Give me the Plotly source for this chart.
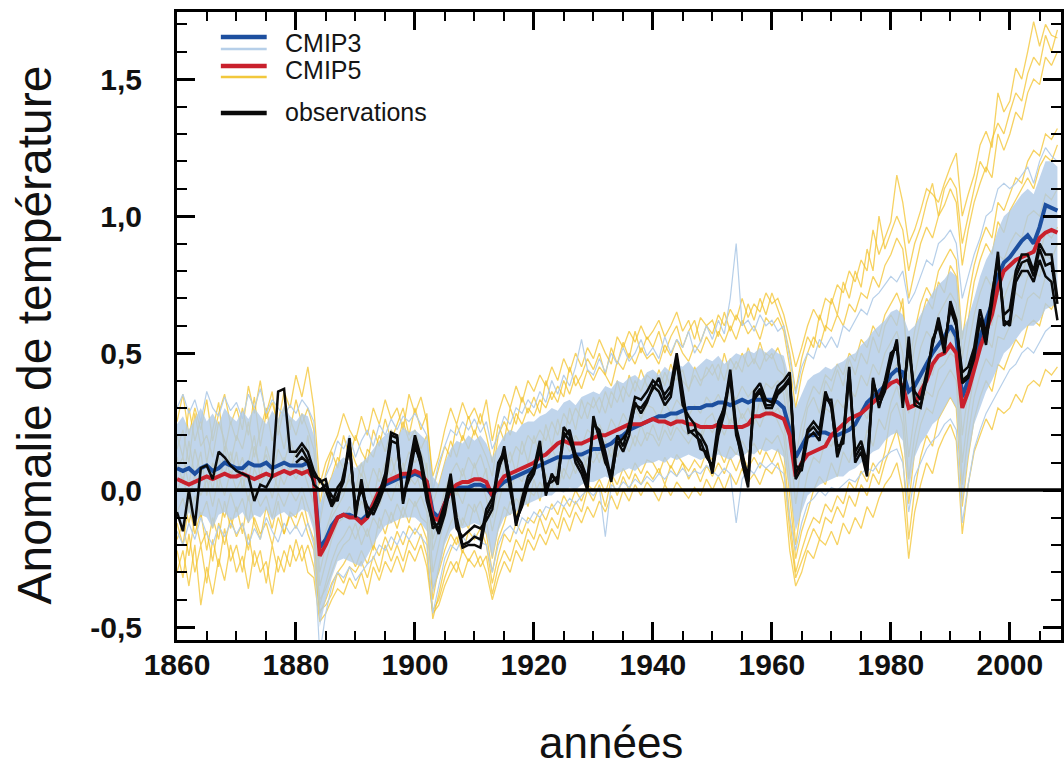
import plotly.graph_objects as go

# ---------------- data ----------------
years = list(range(1860, 2009))          # 149 years
obs_years = list(range(1880, 2009))      # 129 years

cmip5_mean = [
    0.04,0.03,0.02,0.03,0.04,0.05,0.04,0.05,0.06,0.05,
    0.05,0.06,0.05,0.04,0.05,0.06,0.05,0.06,0.07,0.06,
    0.07,0.06,0.07,0.04,-0.24,-0.2,-0.15,-0.1,-0.09,-0.1,
    -0.1,-0.12,-0.1,-0.05,0.0,0.03,0.04,0.05,0.06,0.06,
    0.07,0.06,0.03,-0.1,-0.11,-0.05,0.0,0.02,0.03,0.03,
    0.04,0.04,0.03,-0.02,0.02,0.05,0.06,0.07,0.08,0.09,
    0.1,0.12,0.13,0.15,0.17,0.18,0.17,0.17,0.17,0.18,
    0.19,0.2,0.2,0.21,0.22,0.23,0.24,0.24,0.24,0.25,
    0.26,0.25,0.25,0.24,0.25,0.25,0.24,0.24,0.23,0.23,
    0.23,0.24,0.23,0.23,0.23,0.23,0.24,0.27,0.27,0.28,
    0.28,0.27,0.26,0.2,0.05,0.1,0.13,0.14,0.15,0.16,
    0.2,0.22,0.24,0.26,0.27,0.28,0.3,0.32,0.34,0.37,
    0.39,0.4,0.38,0.3,0.31,0.36,0.4,0.46,0.49,0.5,
    0.53,0.5,0.3,0.36,0.44,0.52,0.58,0.64,0.74,0.8,
    0.82,0.84,0.85,0.86,0.87,0.92,0.94,0.95,0.94]

cmip3_mean = [
    0.08,0.07,0.08,0.06,0.08,0.09,0.07,0.08,0.1,0.09,
    0.08,0.08,0.1,0.09,0.09,0.1,0.08,0.09,0.1,0.09,
    0.09,0.09,0.1,0.05,-0.21,-0.18,-0.13,-0.1,-0.09,-0.09,
    -0.1,-0.11,-0.09,-0.05,-0.01,0.02,0.03,0.04,0.05,0.05,
    0.06,0.05,0.03,-0.08,-0.1,-0.05,0.0,0.01,0.01,0.01,
    0.02,0.02,0.01,-0.02,0.01,0.03,0.04,0.05,0.06,0.07,
    0.08,0.09,0.1,0.11,0.12,0.12,0.12,0.13,0.13,0.14,
    0.15,0.15,0.16,0.17,0.19,0.2,0.22,0.23,0.24,0.25,
    0.26,0.27,0.27,0.28,0.28,0.29,0.3,0.3,0.3,0.31,
    0.31,0.32,0.32,0.31,0.32,0.33,0.32,0.33,0.33,0.33,
    0.33,0.32,0.3,0.22,0.12,0.16,0.2,0.2,0.21,0.21,
    0.2,0.2,0.21,0.22,0.24,0.28,0.32,0.34,0.36,0.38,
    0.42,0.44,0.43,0.36,0.38,0.42,0.46,0.5,0.53,0.56,
    0.6,0.56,0.34,0.4,0.48,0.56,0.62,0.68,0.78,0.83,
    0.85,0.88,0.91,0.93,0.9,0.96,1.04,1.03,1.02]

obs_a = [
    -0.08,-0.15,0.0,-0.13,0.08,0.09,0.04,0.14,0.12,0.09,
    0.07,0.06,0.05,-0.04,0.02,0.01,0.05,0.36,0.37,0.14,
    0.14,0.17,0.14,0.07,0.03,0.04,-0.05,0.01,0.04,0.19,
    -0.1,0.04,-0.09,-0.06,-0.01,0.06,0.21,0.2,-0.04,0.08,
    0.2,0.12,0.0,-0.14,-0.12,-0.05,0.06,-0.1,-0.2,-0.19,
    -0.17,-0.18,-0.07,-0.03,0.06,0.16,0.02,-0.13,-0.03,0.05,
    0.08,0.18,-0.02,0.06,0.02,0.23,0.2,0.1,0.06,0.0,
    0.27,0.18,0.1,0.06,0.2,0.16,0.24,0.34,0.33,0.36,
    0.4,0.38,0.35,0.38,0.5,0.36,0.22,0.2,0.18,0.12,
    0.09,0.25,0.3,0.44,0.23,0.14,0.03,0.36,0.39,0.33,
    0.32,0.38,0.4,0.43,0.06,0.1,0.22,0.25,0.22,0.36,
    0.3,0.13,0.2,0.45,0.12,0.16,0.07,0.41,0.3,0.38,
    0.47,0.55,0.3,0.56,0.33,0.31,0.4,0.55,0.6,0.5,
    0.69,0.62,0.4,0.42,0.5,0.62,0.53,0.7,0.87,0.6,
    0.62,0.78,0.83,0.84,0.78,0.88,0.82,0.83,0.68]

obs_b = [
    0.1,0.12,0.1,0.02,0.0,0.02,-0.02,-0.04,0.06,0.15,
    -0.06,0.0,-0.06,-0.09,-0.04,0.02,0.18,0.17,-0.02,0.04,
    0.16,0.1,-0.02,-0.1,-0.16,-0.09,0.02,-0.14,-0.17,-0.15,
    -0.13,-0.14,-0.11,-0.07,0.08,0.13,0.0,-0.11,-0.06,0.02,
    0.06,0.15,0.0,0.05,0.04,0.19,0.22,0.13,0.1,0.04,
    0.24,0.22,0.14,0.04,0.17,0.19,0.22,0.31,0.3,0.33,
    0.37,0.41,0.33,0.36,0.47,0.31,0.27,0.24,0.15,0.14,
    0.07,0.22,0.31,0.41,0.2,0.12,0.05,0.33,0.36,0.3,
    0.3,0.35,0.37,0.4,0.09,0.07,0.19,0.21,0.18,0.33,
    0.33,0.16,0.17,0.42,0.14,0.18,0.1,0.39,0.33,0.4,
    0.5,0.52,0.34,0.52,0.36,0.33,0.43,0.52,0.63,0.53,
    0.66,0.6,0.43,0.45,0.52,0.66,0.57,0.72,0.84,0.64,
    0.66,0.8,0.86,0.86,0.8,0.9,0.86,0.86,0.7]

obs_c = [
    0.12,0.15,0.11,0.05,0.04,0.0,-0.06,-0.02,0.03,0.17,
    -0.08,0.02,-0.1,-0.07,-0.02,0.04,0.2,0.19,-0.05,0.06,
    0.18,0.09,-0.04,-0.12,-0.14,-0.07,0.04,-0.12,-0.21,-0.2,
    -0.2,-0.21,-0.09,-0.05,0.1,0.14,0.04,-0.12,-0.05,0.03,
    0.07,0.16,0.02,0.03,0.05,0.21,0.18,0.12,0.08,0.02,
    0.25,0.2,0.12,0.03,0.18,0.14,0.2,0.32,0.28,0.32,
    0.38,0.36,0.31,0.34,0.48,0.34,0.21,0.22,0.2,0.16,
    0.06,0.2,0.28,0.42,0.22,0.1,0.01,0.34,0.37,0.31,
    0.31,0.36,0.38,0.41,0.04,0.08,0.21,0.23,0.2,0.34,
    0.31,0.12,0.19,0.44,0.1,0.14,0.05,0.4,0.31,0.36,
    0.48,0.54,0.32,0.54,0.31,0.3,0.41,0.53,0.62,0.52,
    0.67,0.6,0.39,0.41,0.48,0.63,0.55,0.68,0.85,0.62,
    0.6,0.76,0.8,0.8,0.76,0.84,0.78,0.76,0.62]

cmip3_upper = [
    0.24,0.27,0.22,0.26,0.3,0.25,0.28,0.24,0.3,0.27,
    0.25,0.29,0.26,0.3,0.27,0.24,0.29,0.26,0.31,0.27,
    0.25,0.28,0.27,0.2,-0.05,0.0,0.05,0.1,0.12,0.1,
    0.08,0.1,0.12,0.15,0.18,0.2,0.22,0.19,0.23,0.21,
    0.22,0.2,0.18,0.05,0.02,0.1,0.15,0.18,0.17,0.2,
    0.18,0.2,0.17,0.12,0.16,0.2,0.22,0.21,0.24,0.25,
    0.25,0.27,0.28,0.3,0.29,0.32,0.33,0.31,0.34,0.35,
    0.36,0.35,0.38,0.37,0.4,0.39,0.41,0.42,0.4,0.43,
    0.44,0.42,0.45,0.43,0.46,0.45,0.47,0.44,0.46,0.48,
    0.47,0.49,0.46,0.48,0.5,0.49,0.51,0.5,0.52,0.5,
    0.52,0.5,0.49,0.4,0.3,0.35,0.4,0.42,0.43,0.45,
    0.44,0.46,0.47,0.49,0.5,0.53,0.55,0.58,0.6,0.62,
    0.65,0.66,0.64,0.58,0.6,0.64,0.68,0.72,0.75,0.77,
    0.8,0.78,0.58,0.63,0.7,0.78,0.84,0.88,0.95,1.0,
    1.02,1.05,1.08,1.1,1.08,1.14,1.2,1.2,1.18]

cmip3_lower = [
    -0.1,-0.13,-0.08,-0.12,-0.09,-0.1,-0.14,-0.09,-0.08,-0.11,
    -0.1,-0.08,-0.12,-0.09,-0.1,-0.07,-0.11,-0.09,-0.08,-0.1,
    -0.09,-0.07,-0.08,-0.15,-0.5,-0.4,-0.32,-0.26,-0.25,-0.26,
    -0.27,-0.28,-0.24,-0.2,-0.16,-0.13,-0.12,-0.11,-0.1,-0.1,
    -0.1,-0.12,-0.15,-0.38,-0.3,-0.2,-0.15,-0.13,-0.14,-0.13,
    -0.12,-0.13,-0.16,-0.25,-0.15,-0.1,-0.09,-0.08,-0.06,-0.05,
    -0.04,-0.03,-0.02,-0.02,0.0,-0.01,0.01,0.0,0.02,0.03,
    0.03,0.04,0.05,0.04,0.06,0.07,0.08,0.07,0.09,0.1,
    0.1,0.11,0.1,0.12,0.11,0.12,0.13,0.12,0.11,0.12,
    0.12,0.13,0.12,0.11,0.13,0.12,0.14,0.13,0.15,0.14,
    0.15,0.14,0.12,0.0,-0.15,-0.08,-0.02,0.0,0.02,0.03,
    0.04,0.05,0.05,0.07,0.08,0.1,0.12,0.14,0.15,0.18,
    0.2,0.21,0.18,0.0,0.12,0.17,0.2,0.24,0.26,0.3,
    0.34,0.3,-0.05,0.12,0.24,0.3,0.36,0.4,0.45,0.5,
    0.52,0.55,0.58,0.6,0.6,0.62,0.66,0.67,0.68]

cmip3_run_high = [
    0.3,0.35,0.28,0.33,0.25,0.36,0.3,0.27,0.34,0.29,
    0.32,0.26,0.35,0.3,0.37,0.28,0.33,0.3,0.27,0.31,
    0.28,0.33,0.3,0.25,-0.1,0.05,0.1,0.18,0.15,0.2,
    0.12,0.18,0.22,0.16,0.24,0.2,0.26,0.22,0.27,0.25,
    0.28,0.24,0.2,0.0,0.1,0.16,0.22,0.2,0.25,0.22,
    0.26,0.21,0.25,0.15,0.2,0.27,0.24,0.3,0.28,0.33,
    0.3,0.36,0.32,0.4,0.35,0.42,0.38,0.45,0.55,0.44,
    0.42,0.48,0.43,0.5,0.46,0.52,0.47,0.5,0.55,0.49,
    0.52,0.48,0.56,0.5,0.55,0.52,0.58,0.5,0.54,0.6,
    0.55,0.62,0.57,0.7,0.9,0.6,0.62,0.58,0.64,0.6,
    0.62,0.58,0.6,0.48,0.35,0.45,0.5,0.48,0.55,0.52,
    0.56,0.52,0.6,0.58,0.62,0.66,0.64,0.7,0.72,0.75,
    0.78,0.76,0.8,0.68,0.72,0.78,0.84,0.82,0.9,0.92,
    0.95,0.9,0.7,0.78,0.86,0.92,1.0,1.02,1.1,1.12,
    1.1,1.12,1.15,1.18,1.12,1.2,1.25,1.22,1.2]

cmip3_run_low = [
    -0.15,-0.2,-0.12,-0.18,-0.1,-0.16,-0.2,-0.13,-0.17,-0.12,
    -0.16,-0.12,-0.2,-0.14,-0.18,-0.1,-0.15,-0.19,-0.12,-0.16,
    -0.13,-0.17,-0.12,-0.2,-0.6,-0.45,-0.35,-0.3,-0.32,-0.28,
    -0.33,-0.3,-0.27,-0.25,-0.2,-0.22,-0.17,-0.2,-0.15,-0.18,
    -0.14,-0.17,-0.2,-0.45,-0.35,-0.25,-0.2,-0.22,-0.17,-0.2,
    -0.16,-0.19,-0.2,-0.3,-0.2,-0.15,-0.13,-0.16,-0.1,-0.12,
    -0.08,-0.1,-0.06,-0.07,-0.04,-0.06,-0.03,-0.05,-0.02,0.0,
    -0.02,0.01,-0.17,0.02,0.0,0.03,0.01,0.04,0.02,0.05,
    0.03,0.06,0.04,0.07,0.05,0.08,0.05,0.07,0.06,0.09,
    0.07,0.05,0.08,0.06,-0.12,0.04,0.08,0.06,0.1,0.08,
    0.1,0.08,0.06,-0.1,-0.22,-0.12,-0.05,-0.03,0.0,-0.02,
    0.01,0.0,0.02,0.04,0.03,0.06,0.08,0.07,0.1,0.12,
    0.14,0.15,0.1,-0.08,0.05,0.1,0.15,0.18,0.2,0.24,
    0.26,0.22,-0.12,0.02,0.15,0.22,0.28,0.32,0.36,0.4,
    0.44,0.46,0.5,0.52,0.5,0.54,0.58,0.6,0.6]

cmip5_run1 = [
    0.25,0.35,0.2,0.3,0.22,0.33,0.18,0.28,0.35,0.24,
    0.3,0.22,0.38,0.28,0.4,0.26,0.32,0.24,0.36,0.3,
    0.42,0.34,0.45,0.3,0.02,0.1,0.15,0.2,0.28,0.22,
    0.18,0.27,0.2,0.3,0.24,0.33,0.26,0.3,0.22,0.35,
    0.28,0.34,0.25,0.05,0.12,0.22,0.3,0.24,0.32,0.26,
    0.3,0.24,0.33,0.18,0.28,0.35,0.3,0.38,0.32,0.4,
    0.36,0.42,0.38,0.45,0.4,0.48,0.43,0.5,0.45,0.52,
    0.48,0.55,0.5,0.46,0.56,0.52,0.58,0.54,0.6,0.55,
    0.58,0.62,0.56,0.6,0.65,0.58,0.62,0.55,0.63,0.6,
    0.57,0.64,0.6,0.66,0.62,0.7,0.63,0.68,0.65,0.72,
    0.68,0.7,0.64,0.55,0.45,0.52,0.6,0.66,0.62,0.7,
    0.68,0.75,0.72,0.8,0.76,0.84,0.8,0.95,0.86,0.92,
    0.98,1.15,1.05,0.9,0.95,1.02,1.1,1.08,1.05,1.12,
    1.18,1.23,1.0,1.08,1.15,1.26,1.31,1.25,1.45,1.38,
    1.42,1.54,1.5,1.6,1.71,1.62,1.7,1.66,1.65]

cmip5_run2 = [
    0.15,0.22,0.1,0.28,0.16,0.2,0.12,0.25,0.18,0.1,
    0.2,0.15,0.25,0.12,0.22,0.3,0.18,0.24,0.15,0.26,
    0.2,0.28,0.22,0.15,-0.12,0.0,0.05,0.12,0.08,0.16,
    0.1,0.05,0.15,0.12,0.2,0.14,0.22,0.17,0.25,0.18,
    0.22,0.15,0.2,-0.05,0.02,0.1,0.18,0.12,0.2,0.15,
    0.22,0.17,0.12,0.05,0.2,0.25,0.2,0.28,0.24,0.3,
    0.27,0.33,0.3,0.36,0.32,0.4,0.35,0.42,0.37,0.44,
    0.4,0.45,0.42,0.38,0.47,0.44,0.5,0.46,0.52,0.48,
    0.5,0.46,0.53,0.49,0.55,0.5,0.47,0.53,0.5,0.56,
    0.52,0.58,0.54,0.6,0.55,0.62,0.57,0.6,0.55,0.63,
    0.6,0.63,0.58,0.45,0.3,0.42,0.5,0.56,0.52,0.6,
    0.58,0.64,0.6,0.68,0.65,0.72,0.7,0.78,0.74,0.82,
    0.86,0.92,0.88,0.7,0.8,0.9,0.96,0.92,1.0,1.04,
    1.1,1.05,0.82,0.95,1.05,1.12,1.18,1.14,1.3,1.24,
    1.3,1.38,1.35,1.45,1.5,1.48,1.58,1.55,1.6]

cmip5_run3 = [
    0.08,0.12,0.02,0.15,0.06,0.1,0.0,0.12,0.05,0.14,
    0.06,0.12,0.03,0.16,0.08,0.13,0.05,0.15,0.1,0.18,
    0.12,0.17,0.1,0.05,-0.25,-0.15,-0.08,-0.03,0.0,0.04,
    -0.02,0.06,0.0,0.08,0.03,0.1,0.05,0.12,0.07,0.14,
    0.1,0.14,0.08,-0.18,-0.1,0.0,0.06,0.1,0.05,0.12,
    0.08,0.13,0.06,-0.05,0.05,0.12,0.1,0.16,0.13,0.2,
    0.17,0.22,0.18,0.25,0.2,0.28,0.24,0.3,0.26,0.32,
    0.3,0.34,0.28,0.36,0.32,0.38,0.34,0.4,0.36,0.42,
    0.4,0.36,0.43,0.38,0.44,0.4,0.37,0.42,0.38,0.45,
    0.42,0.46,0.4,0.48,0.44,0.5,0.45,0.48,0.44,0.5,
    0.48,0.52,0.46,0.3,0.12,0.24,0.32,0.38,0.35,0.42,
    0.4,0.46,0.42,0.5,0.47,0.55,0.52,0.6,0.56,0.64,
    0.68,0.72,0.66,0.45,0.58,0.68,0.74,0.7,0.8,0.84,
    0.88,0.84,0.55,0.7,0.82,0.9,0.96,0.92,1.05,1.02,
    1.08,1.14,1.12,1.2,1.24,1.22,1.3,1.28,1.32]

cmip5_run4 = [
    0.0,0.05,-0.05,0.06,-0.02,0.04,-0.06,0.05,-0.02,0.07,
    0.0,0.05,-0.04,0.08,0.02,0.06,-0.03,0.07,0.02,0.08,
    0.04,0.09,0.02,-0.05,-0.35,-0.26,-0.18,-0.12,-0.1,-0.06,
    -0.1,-0.04,-0.09,-0.02,-0.06,0.01,-0.04,0.03,-0.02,0.05,
    0.02,0.06,0.0,-0.3,-0.2,-0.1,-0.04,0.0,-0.05,0.03,
    0.0,0.04,-0.03,-0.15,-0.05,0.03,0.0,0.06,0.03,0.1,
    0.08,0.13,0.09,0.15,0.11,0.18,0.14,0.2,0.16,0.22,
    0.2,0.24,0.19,0.26,0.22,0.28,0.24,0.3,0.26,0.31,
    0.3,0.26,0.32,0.28,0.33,0.3,0.27,0.31,0.28,0.34,
    0.31,0.35,0.3,0.36,0.33,0.38,0.34,0.37,0.33,0.39,
    0.37,0.4,0.35,0.18,-0.05,0.1,0.2,0.25,0.22,0.3,
    0.28,0.33,0.3,0.37,0.34,0.42,0.38,0.46,0.42,0.5,
    0.54,0.58,0.5,0.28,0.42,0.52,0.58,0.55,0.64,0.68,
    0.72,0.68,0.38,0.52,0.64,0.72,0.78,0.74,0.86,0.84,
    0.9,0.94,0.92,1.0,1.02,1.0,1.08,1.06,1.1]

cmip5_run5 = [
    -0.08,-0.03,-0.12,-0.02,-0.1,-0.04,-0.14,-0.03,-0.1,-0.01,
    -0.08,-0.03,-0.12,0.0,-0.06,-0.02,-0.1,-0.01,-0.06,0.0,
    -0.04,0.01,-0.06,-0.12,-0.42,-0.34,-0.26,-0.2,-0.17,-0.13,
    -0.18,-0.12,-0.17,-0.1,-0.14,-0.07,-0.12,-0.05,-0.1,-0.03,
    -0.06,-0.02,-0.08,-0.4,-0.28,-0.18,-0.12,-0.08,-0.13,-0.05,
    -0.08,-0.04,-0.11,-0.25,-0.14,-0.06,-0.09,-0.03,-0.06,0.0,
    -0.02,0.03,-0.01,0.05,0.01,0.08,0.04,0.1,0.06,0.12,
    0.1,0.14,0.09,0.16,0.12,0.18,0.14,0.2,0.16,0.21,
    0.2,0.16,0.22,0.18,0.23,0.2,0.17,0.21,0.18,0.24,
    0.21,0.25,0.2,0.26,0.23,0.28,0.24,0.27,0.23,0.29,
    0.27,0.3,0.25,0.05,-0.2,-0.05,0.06,0.12,0.1,0.18,
    0.16,0.21,0.18,0.25,0.22,0.3,0.26,0.34,0.3,0.38,
    0.42,0.46,0.38,0.12,0.28,0.38,0.44,0.42,0.5,0.54,
    0.58,0.54,0.2,0.36,0.5,0.58,0.64,0.6,0.72,0.7,
    0.76,0.8,0.78,0.86,0.88,0.86,0.94,0.92,0.96]

cmip5_run6 = [
    -0.18,-0.12,-0.24,-0.1,-0.2,-0.15,-0.26,-0.12,-0.2,-0.1,
    -0.17,-0.12,-0.22,-0.1,-0.16,-0.12,-0.2,-0.1,-0.16,-0.09,
    -0.14,-0.08,-0.16,-0.22,-0.45,-0.4,-0.34,-0.3,-0.27,-0.23,
    -0.28,-0.22,-0.27,-0.2,-0.24,-0.17,-0.22,-0.15,-0.2,-0.13,
    -0.16,-0.12,-0.18,-0.47,-0.38,-0.28,-0.22,-0.17,-0.23,-0.15,
    -0.18,-0.14,-0.2,-0.34,-0.24,-0.16,-0.19,-0.12,-0.16,-0.1,
    -0.12,-0.07,-0.11,-0.05,-0.09,-0.02,-0.06,0.0,-0.04,0.02,
    0.0,0.04,-0.01,0.06,0.02,0.08,0.04,0.1,0.06,0.11,
    0.1,0.06,0.12,0.08,0.13,0.1,0.07,0.11,0.08,0.14,
    0.11,0.15,0.1,0.16,0.13,0.18,0.14,0.17,0.13,0.19,
    0.17,0.2,0.14,-0.1,-0.3,-0.22,-0.15,-0.1,-0.12,-0.05,
    -0.08,-0.02,-0.05,0.03,0.0,0.07,0.03,0.1,0.06,0.14,
    0.28,0.32,0.24,-0.05,0.14,0.24,0.3,0.28,0.36,0.4,
    0.44,0.4,0.02,0.2,0.34,0.42,0.48,0.45,0.56,0.55,
    0.6,0.64,0.62,0.7,0.72,0.7,0.78,0.76,0.8]

cmip5_run7 = [
    -0.3,-0.22,-0.35,-0.2,-0.42,-0.28,-0.38,-0.25,-0.33,-0.2,
    -0.3,-0.24,-0.36,-0.22,-0.3,-0.26,-0.38,-0.24,-0.3,-0.2,
    -0.26,-0.2,-0.3,-0.32,-0.48,-0.45,-0.4,-0.36,-0.38,-0.32,
    -0.36,-0.3,-0.38,-0.28,-0.33,-0.26,-0.3,-0.24,-0.3,-0.22,
    -0.26,-0.2,-0.28,-0.45,-0.42,-0.35,-0.3,-0.26,-0.32,-0.25,
    -0.28,-0.24,-0.3,-0.4,-0.32,-0.26,-0.3,-0.22,-0.26,-0.18,
    -0.22,-0.16,-0.2,-0.14,-0.18,-0.1,-0.15,-0.08,-0.12,-0.06,
    -0.1,-0.04,-0.08,-0.02,-0.07,0.0,-0.04,0.02,-0.02,0.03,
    0.0,-0.04,0.02,-0.02,0.03,0.0,-0.03,0.01,-0.02,0.04,
    0.0,0.05,0.0,0.06,0.02,0.08,0.03,0.06,0.02,0.08,
    0.06,0.1,0.02,-0.22,-0.35,-0.3,-0.22,-0.25,-0.18,-0.2,
    -0.15,-0.2,-0.12,-0.16,-0.1,-0.14,-0.06,-0.1,-0.03,0.02,
    0.05,0.1,0.0,-0.25,-0.08,0.02,0.1,0.06,0.15,0.2,
    0.24,0.18,-0.16,0.02,0.14,0.2,0.26,0.22,0.3,0.28,
    0.3,0.35,0.32,0.38,0.4,0.38,0.44,0.42,0.45]

cmip5_run8 = [
    0.2,0.12,0.3,0.18,0.26,0.1,0.22,0.32,0.14,0.25,
    0.18,0.3,0.2,0.34,0.16,0.28,0.36,0.2,0.3,0.22,
    0.33,0.24,0.3,0.22,-0.05,0.06,0.14,0.08,0.2,0.12,
    0.2,0.14,0.1,0.22,0.16,0.26,0.18,0.24,0.3,0.2,
    0.3,0.22,0.28,0.0,0.08,0.16,0.12,0.24,0.18,0.27,
    0.2,0.28,0.2,0.1,0.24,0.18,0.3,0.24,0.34,0.28,
    0.34,0.28,0.4,0.33,0.38,0.34,0.45,0.38,0.42,0.48,
    0.44,0.5,0.42,0.52,0.46,0.54,0.48,0.58,0.5,0.56,
    0.52,0.58,0.5,0.56,0.6,0.52,0.58,0.62,0.54,0.6,
    0.62,0.56,0.65,0.58,0.64,0.6,0.68,0.62,0.7,0.64,
    0.72,0.66,0.6,0.5,0.36,0.48,0.56,0.52,0.64,0.58,
    0.7,0.64,0.76,0.7,0.8,0.74,0.88,0.8,1.0,0.88,
    0.94,1.0,0.95,0.8,0.9,0.96,1.05,1.12,1.0,1.1,
    1.14,1.1,0.9,1.0,1.1,1.2,1.16,1.28,1.34,1.3,
    1.38,1.45,1.42,1.52,1.58,1.55,1.66,1.6,1.68]

cmip5_run9 = [
    0.12,0.02,0.18,0.05,0.14,-0.02,0.1,0.0,0.16,0.04,
    0.14,0.0,0.1,0.2,0.04,0.16,0.08,0.0,0.12,0.06,
    0.15,0.05,0.2,0.0,-0.3,-0.2,-0.1,-0.06,-0.02,0.06,
    0.0,0.1,0.02,-0.04,0.08,0.0,0.12,0.04,0.1,0.02,
    0.08,0.0,0.1,-0.22,-0.14,-0.04,0.04,-0.02,0.08,0.0,
    0.1,0.02,0.08,-0.1,0.0,0.08,0.14,0.06,0.18,0.1,
    0.2,0.12,0.24,0.16,0.26,0.18,0.3,0.22,0.33,0.26,
    0.34,0.28,0.36,0.3,0.4,0.32,0.42,0.36,0.44,0.38,
    0.36,0.44,0.38,0.46,0.4,0.44,0.36,0.45,0.4,0.42,
    0.46,0.4,0.5,0.42,0.47,0.43,0.52,0.46,0.54,0.47,
    0.5,0.44,0.42,0.25,0.08,0.18,0.3,0.34,0.28,0.4,
    0.36,0.44,0.38,0.48,0.42,0.5,0.46,0.56,0.5,0.6,
    0.64,0.6,0.7,0.4,0.52,0.62,0.7,0.66,0.76,0.72,
    0.82,0.78,0.48,0.62,0.76,0.84,0.9,0.86,0.98,0.94,
    1.02,1.06,1.1,1.14,1.1,1.18,1.22,1.2,1.26]

cmip5_run10 = [
    -0.12,-0.2,-0.05,-0.16,-0.08,-0.22,-0.1,-0.18,-0.04,-0.14,
    -0.06,-0.16,-0.02,-0.12,-0.18,-0.06,-0.14,-0.04,-0.16,-0.08,
    -0.1,-0.02,-0.12,-0.18,-0.4,-0.36,-0.3,-0.24,-0.2,-0.18,
    -0.12,-0.2,-0.14,-0.22,-0.1,-0.16,-0.08,-0.14,-0.06,-0.12,
    -0.04,-0.1,-0.12,-0.36,-0.3,-0.22,-0.16,-0.2,-0.1,-0.14,
    -0.05,-0.12,-0.16,-0.3,-0.18,-0.12,-0.04,-0.1,0.0,-0.06,
    0.04,-0.04,0.06,0.0,0.1,0.04,0.12,0.06,0.14,0.08,
    0.16,0.1,0.18,0.12,0.2,0.14,0.22,0.16,0.24,0.18,
    0.24,0.18,0.26,0.2,0.27,0.22,0.2,0.25,0.2,0.26,
    0.28,0.22,0.3,0.24,0.32,0.26,0.3,0.24,0.33,0.27,
    0.3,0.25,0.2,-0.02,-0.25,-0.15,-0.08,0.0,0.05,0.02,
    0.1,0.05,0.14,0.1,0.18,0.12,0.22,0.16,0.26,0.22,
    0.32,0.38,0.3,0.04,0.2,0.3,0.36,0.34,0.44,0.46,
    0.5,0.48,0.1,0.28,0.42,0.5,0.56,0.52,0.64,0.62,
    0.68,0.72,0.7,0.78,0.8,0.78,0.86,0.84,0.9]

cmip5_run11 = [
    -0.22,-0.32,-0.16,-0.3,-0.2,-0.34,-0.18,-0.28,-0.14,-0.26,
    -0.2,-0.3,-0.16,-0.28,-0.22,-0.34,-0.2,-0.3,-0.22,-0.28,
    -0.18,-0.26,-0.2,-0.28,-0.44,-0.42,-0.38,-0.3,-0.34,-0.28,
    -0.3,-0.26,-0.32,-0.24,-0.3,-0.2,-0.26,-0.2,-0.26,-0.18,
    -0.22,-0.16,-0.24,-0.44,-0.4,-0.32,-0.26,-0.3,-0.22,-0.26,
    -0.22,-0.28,-0.24,-0.38,-0.28,-0.22,-0.26,-0.18,-0.22,-0.14,
    -0.18,-0.1,-0.16,-0.1,-0.14,-0.06,-0.1,-0.04,-0.08,0.0,
    -0.04,0.02,-0.06,0.04,-0.02,0.05,0.0,0.06,0.02,0.07,
    0.04,0.08,0.02,0.09,0.05,0.1,0.04,0.08,0.03,0.09,
    0.05,0.1,0.06,0.12,0.07,0.13,0.08,0.12,0.08,0.14,
    0.1,0.15,0.08,-0.15,-0.32,-0.26,-0.2,-0.14,-0.18,-0.1,
    -0.12,-0.06,-0.1,-0.02,-0.06,0.02,-0.02,0.06,0.02,0.1,
    0.16,0.22,0.12,-0.18,0.0,0.12,0.2,0.16,0.26,0.3,
    0.34,0.3,-0.06,0.12,0.26,0.34,0.4,0.36,0.46,0.44,
    0.5,0.55,0.52,0.6,0.62,0.6,0.68,0.66,0.7]

cmip5_runs = [cmip5_run1, cmip5_run2, cmip5_run3, cmip5_run4, cmip5_run5,
              cmip5_run6, cmip5_run7, cmip5_run8, cmip5_run9, cmip5_run10,
              cmip5_run11]
cmip3_runs = [cmip3_run_high, cmip3_run_low]
observations = [(years, obs_a), (obs_years, obs_b), (obs_years, obs_c)]

x_ticks = [1860, 1880, 1900, 1920, 1940, 1960, 1980, 2000]
y_ticks = [-0.5, 0.0, 0.5, 1.0, 1.5]
y_tick_text = ["-0,5", "0,0", "0,5", "1,0", "1,5"]

legend_labels = ["CMIP3", "CMIP5", "observations"]

# sanity
for s in [cmip5_mean, cmip3_mean, obs_a, cmip3_upper, cmip3_lower] + cmip5_runs + cmip3_runs:
    assert len(s) == len(years), len(s)
for s in [obs_b, obs_c]:
    assert len(s) == len(obs_years), len(s)

# ---------------- styles ----------------
YELLOW = "rgba(243,193,38,0.72)"
LBLUE_LINE = "rgba(178,204,232,0.95)"
LBLUE_FILL = "rgba(176,203,231,0.80)"
BLUE = "#1d4f9f"
RED = "#c9202c"
BLACK = "#0a0a0a"

fig = go.Figure()

for run in cmip5_runs:
    fig.add_trace(go.Scatter(x=years, y=run, mode="lines",
                             line=dict(color=YELLOW, width=1.3),
                             showlegend=False, hoverinfo="skip"))
for run in cmip3_runs:
    fig.add_trace(go.Scatter(x=years, y=run, mode="lines",
                             line=dict(color=LBLUE_LINE, width=1.2),
                             showlegend=False, hoverinfo="skip"))

fig.add_trace(go.Scatter(x=years, y=cmip3_lower, mode="lines",
                         line=dict(width=0, color=LBLUE_FILL),
                         showlegend=False, hoverinfo="skip"))
fig.add_trace(go.Scatter(x=years, y=cmip3_upper, mode="lines", fill="tonexty",
                         fillcolor=LBLUE_FILL, line=dict(width=0, color=LBLUE_FILL),
                         showlegend=False, hoverinfo="skip"))

fig.add_trace(go.Scatter(x=years, y=cmip3_mean, mode="lines",
                         line=dict(color=BLUE, width=4), showlegend=False))
fig.add_trace(go.Scatter(x=years, y=cmip5_mean, mode="lines",
                         line=dict(color=RED, width=4), showlegend=False))
for xs, ys in observations:
    fig.add_trace(go.Scatter(x=xs, y=ys, mode="lines",
                             line=dict(color=BLACK, width=2.5), showlegend=False))

# zero line
fig.add_shape(type="line", xref="paper", x0=0, x1=1, yref="y", y0=0, y1=0,
              line=dict(color="black", width=3.5), layer="above")

# custom legend (double line samples as in the original)
PL = 177.0; PW = 887.0; PB = 640.0; PH = 628.0
def px(x): return (x - PL) / PW
def py(y): return (PB - y) / PH

legend_samples = [(37, BLUE, 4.5), (49, LBLUE_LINE, 2.5), (66, RED, 4.5),
                  (77, "rgba(242,200,60,1)", 2.5), (113, BLACK, 4.5)]
for yy, col, w in legend_samples:
    fig.add_shape(type="line", xref="paper", yref="paper",
                  x0=px(221), x1=px(267), y0=py(yy), y1=py(yy),
                  line=dict(color=col, width=w), layer="above")
for label, yy in zip(legend_labels, [43, 70, 112]):
    fig.add_annotation(text=label, xref="paper", yref="paper",
                       x=px(283), y=py(yy), xanchor="left", yanchor="middle",
                       showarrow=False,
                       font=dict(family="Liberation Sans, Arial", size=25, color="#151515"))

# axis titles
fig.add_annotation(text="Anomalie de température", xref="paper", yref="paper",
                   x=px(34), y=py(335), xanchor="center", yanchor="middle",
                   textangle=-90, showarrow=False,
                   font=dict(family="Liberation Sans, Arial", size=48, color="#111"))
fig.add_annotation(text="années", xref="paper", yref="paper",
                   x=px(612), y=py(743), xanchor="center", yanchor="middle",
                   showarrow=False,
                   font=dict(family="Liberation Sans, Arial", size=44, color="#111"))

tickfont = dict(family="Liberation Sans, Arial", size=30, color="#111", weight="bold")

fig.update_xaxes(range=[1860, 2008.6], showline=True, linecolor="black", linewidth=3,
                 mirror="ticks", ticks="inside", ticklen=18, tickwidth=3, tickcolor="black",
                 tickvals=x_ticks, ticktext=[str(v) for v in x_ticks],
                 minor=dict(dtick=5, tick0=1860, ticks="inside", ticklen=9, tickwidth=2,
                            tickcolor="black", showgrid=False),
                 showgrid=False, zeroline=False, tickfont=tickfont, ticklabelstandoff=-4)
fig.update_yaxes(range=[-0.547, 1.745], showline=True, linecolor="black", linewidth=3,
                 mirror="ticks", ticks="inside", ticklen=18, tickwidth=3, tickcolor="black",
                 tickvals=y_ticks, ticktext=y_tick_text,
                 minor=dict(dtick=0.1, tick0=0, ticks="inside", ticklen=10, tickwidth=2,
                            tickcolor="black", showgrid=False),
                 showgrid=False, zeroline=False, tickfont=tickfont, ticklabelstandoff=26)

fig.update_layout(width=1064, height=773,
                  margin=dict(l=177, r=0, t=12, b=133, pad=0),
                  paper_bgcolor="white", plot_bgcolor="white",
                  showlegend=False)

fig.write_html("out.html")
